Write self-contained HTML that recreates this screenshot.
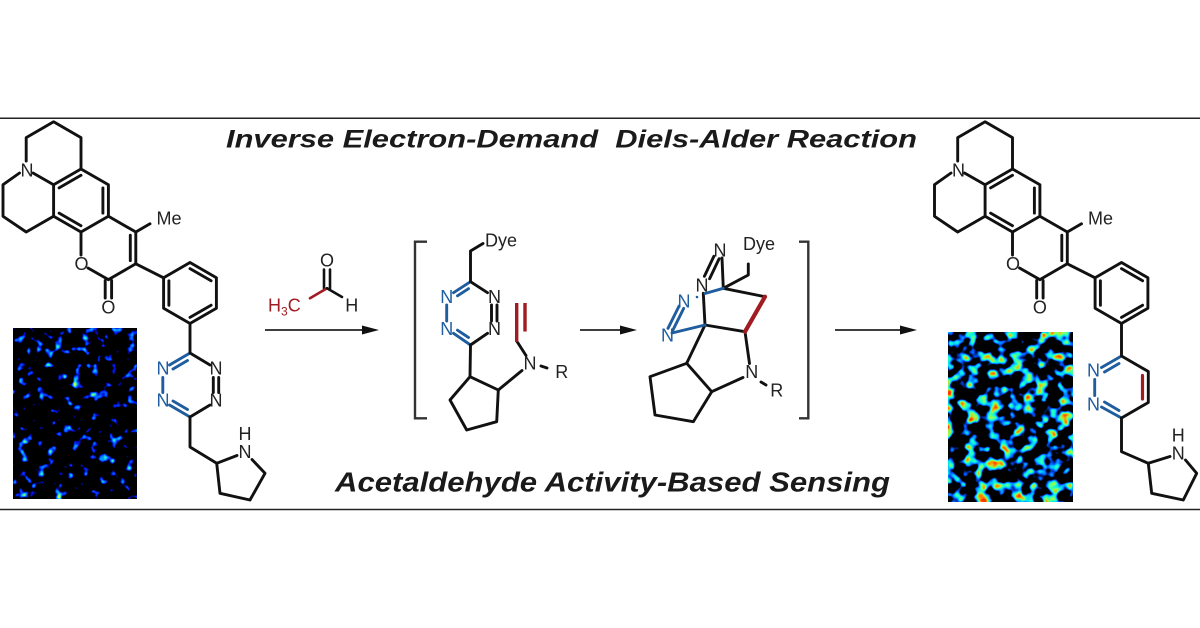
<!DOCTYPE html>
<html><head><meta charset="utf-8"><style>html,body{margin:0;padding:0;background:#fff}svg{display:block}</style></head>
<body>
<svg width="1200" height="628" viewBox="0 0 1200 628" xmlns="http://www.w3.org/2000/svg" font-family="'Liberation Sans', Arial, sans-serif">
<defs>
<filter id="fL" x="0" y="0" width="1" height="1" color-interpolation-filters="sRGB">
 <feTurbulence type="fractalNoise" baseFrequency="0.11" numOctaves="2" seed="7" result="n"/>
 <feColorMatrix in="n" type="matrix" values="4 0 0 0 -2.4  4 0 0 0 -2.4  4 0 0 0 -2.4  0 0 0 0 1"/>
 <feComponentTransfer>
  <feFuncR type="table" tableValues="0 0 0 0 0.15 0.7"/>
  <feFuncG type="table" tableValues="0 0.05 0.3 0.6 0.9 1"/>
  <feFuncB type="table" tableValues="0 0.8 1 1 0.8 0.3"/>
 </feComponentTransfer>
</filter>
<filter id="fR" x="0" y="0" width="1" height="1" color-interpolation-filters="sRGB">
 <feTurbulence type="fractalNoise" baseFrequency="0.085" numOctaves="2" seed="11" result="n"/>
 <feColorMatrix in="n" type="matrix" values="3 0 0 0 -1.47  3 0 0 0 -1.47  3 0 0 0 -1.47  0 0 0 0 1"/>
 <feComponentTransfer>
  <feFuncR type="table" tableValues="0 0 0 0.1 0.6 1 1"/>
  <feFuncG type="table" tableValues="0 0.3 0.8 1 1 0.6 0.2"/>
  <feFuncB type="table" tableValues="0 1 1 0.8 0.3 0 0"/>
 </feComponentTransfer>
</filter>
</defs>
<rect width="1200" height="628" fill="#fff"/>

<!-- frame lines -->
<line x1="0" y1="118.3" x2="1200" y2="118.3" stroke="#222" stroke-width="1.5"/>
<line x1="0" y1="509.5" x2="1200" y2="509.5" stroke="#222" stroke-width="1.5"/>

<!-- titles -->
<text x="226" y="147.3" font-size="25" font-weight="bold" font-style="italic" fill="#1a1a1a" style="white-space:pre" textLength="691" lengthAdjust="spacingAndGlyphs">Inverse Electron-Demand  Diels-Alder Reaction</text>
<text x="335" y="491.7" font-size="28" font-weight="bold" font-style="italic" fill="#1a1a1a" textLength="555" lengthAdjust="spacingAndGlyphs">Acetaldehyde Activity-Based Sensing</text>

<!-- cell images -->
<rect x="13" y="328" width="124" height="171" fill="#000" filter="url(#fL)"/>
<rect x="948" y="332" width="125" height="170" fill="#000" filter="url(#fR)"/>

<!-- ===== LEFT COUMARIN ===== -->
<g stroke="#111" stroke-width="2.9" fill="none" stroke-linejoin="round" stroke-linecap="round">
 <polyline points="26.2,161 26.2,137.6 53.6,121.8 81,137.6 81,169"/>
 <line x1="33" y1="173" x2="53.6" y2="184.7"/>
 <polyline points="19.5,173 3,184.7 3,216.3 26.2,232 53.6,216.3"/>
 <polygon points="81,169 108.4,184.7 108.4,216.3 81,232 53.6,216.3 53.6,184.7"/>
 <line x1="59.1" y1="187.9" x2="81" y2="175.3"/>
 <line x1="102.9" y1="187.9" x2="102.9" y2="213.1"/>
 <line x1="59.1" y1="213.1" x2="81" y2="225.7"/>
 <line x1="81" y1="232" x2="81" y2="255"/>
 <line x1="88" y1="268" x2="108.4" y2="279.6"/>
 <polyline points="108.4,279.6 135.8,263.8 135.8,232 108.4,216.3"/>
 <line x1="130.3" y1="235.2" x2="130.3" y2="260.6"/>
 <line x1="135.8" y1="232" x2="150" y2="223.8"/>
 <line x1="105.2" y1="280.5" x2="105.2" y2="298"/>
 <line x1="111.6" y1="280.5" x2="111.6" y2="298"/>
 <line x1="135.8" y1="263.8" x2="163.6" y2="277.8"/>
 <polygon points="190,262.5 216.4,277.8 216.4,308.2 190,323.5 163.6,308.2 163.6,277.8"/>
 <line x1="168.9" y1="280.8" x2="168.9" y2="305.2"/>
 <line x1="190" y1="268.6" x2="211.1" y2="280.8"/>
 <line x1="211.1" y1="305.2" x2="190" y2="317.4"/>
 <line x1="190" y1="323.5" x2="190" y2="353"/>
</g>
<g font-size="18" fill="#222" text-anchor="middle">
 <text x="27" y="176.3">N</text>
 <text x="81.5" y="270">O</text>
 <text x="108.4" y="313.5">O</text>
 <text x="169" y="224.5" >Me</text>
</g>

<!-- left tetrazine -->
<g stroke-width="2.9" fill="none" stroke-linecap="round">
 <g stroke="#1f5d9e">
  <line x1="190" y1="353" x2="169.5" y2="365"/>
  <line x1="187.5" y1="360.5" x2="173" y2="369"/>
  <line x1="162.8" y1="377.5" x2="162.8" y2="392.5"/>
  <line x1="169.5" y1="405" x2="190" y2="417"/>
  <line x1="173" y1="401" x2="187.5" y2="409.5"/>
 </g>
 <g stroke="#111">
  <line x1="190" y1="417" x2="210" y2="405"/>
  <line x1="213.3" y1="377.5" x2="213.3" y2="392.5"/>
  <line x1="218.7" y1="377.5" x2="218.7" y2="392.5"/>
  <line x1="210" y1="365" x2="190" y2="353"/>
  <polyline points="190,417 190,447 216.7,463.3" stroke-linejoin="round"/>
  <line x1="216.7" y1="463.3" x2="237" y2="455.5"/>
  <polyline points="252,459.5 265,473.3 250,500 220,493.3 216.7,463.3" stroke-linejoin="round"/>
 </g>
</g>
<g font-size="18" text-anchor="middle">
 <text x="163" y="374.5" fill="#1f5d9e">N</text>
 <text x="163" y="406.5" fill="#1f5d9e">N</text>
 <text x="216" y="374.5" fill="#222">N</text>
 <text x="216" y="406.5" fill="#222">N</text>
 <text x="245" y="458" fill="#222">N</text>
 <text x="245" y="440" fill="#222">H</text>
</g>

<!-- ===== RIGHT COUMARIN ===== -->
<g transform="translate(931.5,0)">
<g stroke="#111" stroke-width="2.9" fill="none" stroke-linejoin="round" stroke-linecap="round">
 <polyline points="26.2,161 26.2,137.6 53.6,121.8 81,137.6 81,169"/>
 <line x1="33" y1="173" x2="53.6" y2="184.7"/>
 <polyline points="19.5,173 3,184.7 3,216.3 26.2,232 53.6,216.3"/>
 <polygon points="81,169 108.4,184.7 108.4,216.3 81,232 53.6,216.3 53.6,184.7"/>
 <line x1="59.1" y1="187.9" x2="81" y2="175.3"/>
 <line x1="102.9" y1="187.9" x2="102.9" y2="213.1"/>
 <line x1="59.1" y1="213.1" x2="81" y2="225.7"/>
 <line x1="81" y1="232" x2="81" y2="255"/>
 <line x1="88" y1="268" x2="108.4" y2="279.6"/>
 <polyline points="108.4,279.6 135.8,263.8 135.8,232 108.4,216.3"/>
 <line x1="130.3" y1="235.2" x2="130.3" y2="260.6"/>
 <line x1="135.8" y1="232" x2="150" y2="223.8"/>
 <line x1="105.2" y1="280.5" x2="105.2" y2="298"/>
 <line x1="111.6" y1="280.5" x2="111.6" y2="298"/>
 <line x1="135.8" y1="263.8" x2="163.6" y2="277.8"/>
 <polygon points="190,262.5 216.4,277.8 216.4,308.2 190,323.5 163.6,308.2 163.6,277.8"/>
 <line x1="168.9" y1="280.8" x2="168.9" y2="305.2"/>
 <line x1="190" y1="268.6" x2="211.1" y2="280.8"/>
 <line x1="211.1" y1="305.2" x2="190" y2="317.4"/>
 <line x1="190" y1="323.5" x2="190" y2="356"/>
</g>
<g font-size="18" fill="#222" text-anchor="middle">
 <text x="27" y="176.3">N</text>
 <text x="81.5" y="270">O</text>
 <text x="108.4" y="313.5">O</text>
 <text x="169" y="224.5">Me</text>
</g>
</g>

<!-- right pyridazine -->
<g stroke-width="2.9" fill="none" stroke-linecap="round">
 <g stroke="#1f5d9e">
  <line x1="1121.5" y1="356" x2="1101.5" y2="367.5"/>
  <line x1="1119" y1="363.5" x2="1104.5" y2="372"/>
  <line x1="1094.7" y1="379.5" x2="1094.7" y2="395.5"/>
  <line x1="1101.5" y1="407" x2="1121.5" y2="418"/>
  <line x1="1104.5" y1="402" x2="1119" y2="410.5"/>
 </g>
 <g stroke="#111" stroke-linejoin="round">
  <polyline points="1121.5,418 1148.3,402.5 1148.3,371.5 1121.5,356"/>
  <polyline points="1121.5,418 1121.5,451.7 1148.3,463.3"/>
  <line x1="1148.3" y1="463.3" x2="1170" y2="456.5"/>
  <polyline points="1185.5,460 1196.7,473.3 1183.3,500 1151.7,493.3 1148.3,463.3"/>
 </g>
 <line x1="1142.5" y1="375.5" x2="1142.5" y2="399" stroke="#a01c22" stroke-width="3.2"/>
</g>
<g font-size="18" text-anchor="middle">
 <text x="1093.5" y="376.5" fill="#1f5d9e">N</text>
 <text x="1093.5" y="410.5" fill="#1f5d9e">N</text>
 <text x="1178.3" y="459.6" fill="#222">N</text>
 <text x="1178.3" y="441.3" fill="#222">H</text>
</g>

<!-- ===== acetaldehyde ===== -->
<g stroke-width="2.6" fill="none" stroke-linecap="round">
 <line x1="324" y1="269.5" x2="324" y2="288.3" stroke="#111"/>
 <line x1="330" y1="269.5" x2="330" y2="288.3" stroke="#111"/>
 <line x1="310" y1="298.3" x2="327" y2="288.3" stroke="#a01c22"/>
 <line x1="327" y1="288.3" x2="342" y2="297" stroke="#111"/>
</g>
<text x="327" y="266.3" font-size="18" fill="#222" text-anchor="middle">O</text>
<text x="351.7" y="311.5" font-size="18" fill="#222" text-anchor="middle">H</text>
<text x="268" y="311.5" font-size="18" fill="#a01c22">H<tspan font-size="12" dy="4">3</tspan><tspan dy="-4">C</tspan></text>

<!-- arrows -->
<g stroke="#222" stroke-width="1.7">
 <line x1="265" y1="330" x2="366" y2="330"/>
 <line x1="580" y1="330" x2="624" y2="330"/>
 <line x1="835" y1="330" x2="904" y2="330"/>
</g>
<g fill="#111">
 <polygon points="362,325.5 379,330 362,334.5"/>
 <polygon points="620,325.5 637,330 620,334.5"/>
 <polygon points="900,325.5 917,330 900,334.5"/>
</g>

<!-- brackets -->
<g stroke="#333" stroke-width="2.4" fill="none">
 <polyline points="427,241.7 415,241.7 415,418.3 427,418.3"/>
 <polyline points="799,241.7 808.3,241.7 808.3,418.3 799,418.3"/>
</g>

<!-- ===== intermediate 1 ===== -->
<g stroke-width="2.9" fill="none" stroke-linecap="round" stroke-linejoin="round">
 <g stroke="#1f5d9e">
  <line x1="470.5" y1="281.7" x2="453.5" y2="292.7"/>
  <line x1="468.5" y1="288.7" x2="457.5" y2="295.8"/>
  <line x1="446.7" y1="305" x2="446.7" y2="321"/>
  <line x1="453.5" y1="333.3" x2="470.5" y2="345"/>
  <line x1="457.5" y1="330.2" x2="468.5" y2="337.5"/>
 </g>
 <g stroke="#111">
  <polyline points="470.5,281.7 470.5,251 483,243.5"/>
  <line x1="470.5" y1="345" x2="487.5" y2="333.3"/>
  <line x1="491.5" y1="305" x2="491.5" y2="321"/>
  <line x1="497" y1="305" x2="497" y2="321"/>
  <line x1="487.5" y1="292.7" x2="470.5" y2="281.7"/>
  <line x1="470.5" y1="345" x2="470" y2="376.7"/>
  <polygon points="470,376.7 498.3,390 496.7,421.7 466.7,430 450,400"/>
  <line x1="498.3" y1="390" x2="522" y2="370.5"/>
  <line x1="526" y1="355.5" x2="516.7" y2="341"/>
  <line x1="541" y1="366" x2="547" y2="368"/>
 </g>
 <g stroke="#a01c22" stroke-width="3.4" stroke-linecap="butt">
  <line x1="516.7" y1="342" x2="516.7" y2="303"/>
  <line x1="525" y1="331.5" x2="525" y2="303"/>
 </g>
</g>
<g font-size="18" text-anchor="middle">
 <text x="446.7" y="303" fill="#1f5d9e">N</text>
 <text x="446.7" y="335" fill="#1f5d9e">N</text>
 <text x="494.5" y="303" fill="#222">N</text>
 <text x="494.5" y="335" fill="#222">N</text>
 <text x="530" y="369.6" fill="#222">N</text>
 <text x="561.7" y="378" fill="#222">R</text>
</g>
<text x="485" y="246.5" font-size="18" fill="#222">Dye</text>

<!-- ===== intermediate 2 ===== -->
<g stroke-width="2.9" fill="none" stroke-linecap="round" stroke-linejoin="round">
 <g stroke="#111">
  <line x1="713.9" y1="256.3" x2="704.4" y2="276.3"/>
  <line x1="719.1" y1="258.7" x2="709.6" y2="278.7"/>
  <line x1="722" y1="258" x2="723.3" y2="288.3"/>
  <line x1="703.3" y1="293.3" x2="705" y2="325"/>
  <line x1="723.3" y1="288.3" x2="765" y2="296.7"/>
  <line x1="745" y1="331.7" x2="705" y2="325"/>
  <polyline points="723.3,288.3 748.3,275 748.3,264"/>
  <line x1="705" y1="325" x2="686.7" y2="363.3"/>
  <line x1="745" y1="331.7" x2="749.5" y2="363.5"/>
  <polygon points="686.7,363.3 650,376.7 655,415 693.3,421.7 711.7,391.7"/>
  <line x1="711.7" y1="391.7" x2="743" y2="377.5"/>
  <line x1="761" y1="382" x2="766" y2="385"/>
 </g>
 <g stroke="#1f5d9e">
  <line x1="705" y1="293.5" x2="723.3" y2="288.3"/>
  <line x1="672" y1="333" x2="705" y2="325"/>
  <line x1="679.1" y1="306" x2="668" y2="328.3"/>
  <line x1="683.7" y1="308.4" x2="672.6" y2="330.7"/>
 </g>
 <line x1="765" y1="296.7" x2="745" y2="331.7" stroke="#a01c22" stroke-width="4.2"/>
</g>
<circle cx="697" cy="297" r="1.3" fill="#1f5d9e"/>
<g font-size="18" text-anchor="middle">
 <text x="720" y="256.3" fill="#222">N</text>
 <text x="702" y="291.3" fill="#222">N</text>
 <text x="684" y="307.5" fill="#1f5d9e">N</text>
 <text x="667.5" y="341.5" fill="#1f5d9e">N</text>
 <text x="751.7" y="378" fill="#222">N</text>
 <text x="776.7" y="396.3" fill="#222">R</text>
</g>
<text x="743" y="250" font-size="18" fill="#222">Dye</text>
</svg>
</body></html>
